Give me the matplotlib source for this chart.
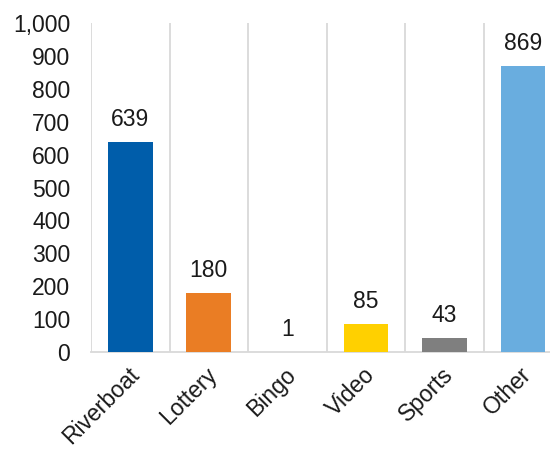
import matplotlib
matplotlib.use("Agg")
import matplotlib.pyplot as plt
import matplotlib.transforms as mtransforms
from matplotlib.ticker import FuncFormatter, FixedLocator

plt.rcParams["font.family"] = ["Liberation Sans", "DejaVu Sans"]

# ---- data ----
categories = ["Riverboat", "Lottery", "Bingo", "Video", "Sports", "Other"]
values = [639, 180, 1, 85, 43, 869]
colors = ["#005DAA", "#EA7D24", "#A5A5A5", "#FFD000", "#7F7F7F", "#69ADDF"]


def main():
    fig = plt.figure(figsize=(5.5, 4.51), dpi=100)
    ax = fig.add_axes([0.1655, 0.2195, 0.857, 0.7295])

    x = list(range(len(categories)))
    bars = ax.bar(x, values, width=0.57, color=colors, zorder=3)

    for b, v in zip(bars, values):
        ax.annotate(f"{v:,}", (b.get_x() + b.get_width() / 2, v),
                    xytext=(0, 8), textcoords="offset points",
                    ha="center", va="bottom", fontsize=16.5, color="#1a1a1a")

    ax.set_xlim(-0.5, len(categories) - 0.5)
    ax.set_ylim(0, 1000)
    ax.set_yticks(range(0, 1001, 100))
    ax.yaxis.set_major_formatter(FuncFormatter(lambda v, p: f"{int(v):,}"))
    ax.tick_params(axis="y", length=0, pad=15, labelsize=16.5, labelcolor="#1a1a1a")

    ax.set_xticks(x)
    ax.set_xticklabels(categories, rotation=45, ha="right",
                       rotation_mode="anchor", fontsize=16.5, color="#1a1a1a")
    ax.tick_params(axis="x", length=0, pad=8)
    # nudge rotated labels slightly left
    shift = mtransforms.ScaledTranslation(-3 / 100, 0, fig.dpi_scale_trans)
    for lbl in ax.get_xticklabels():
        lbl.set_transform(lbl.get_transform() + shift)

    # vertical separators between categories
    ax.xaxis.set_minor_locator(FixedLocator([i - 0.5 for i in range(len(categories) + 1)]))
    ax.tick_params(axis="x", which="minor", length=0)
    ax.grid(axis="x", which="minor", color="#D9D9D9", linewidth=1.3, zorder=0)

    for s in ["top", "right", "left"]:
        ax.spines[s].set_visible(False)
    ax.spines["bottom"].set_color("#D9D9D9")
    ax.spines["bottom"].set_linewidth(1.3)

    fig.savefig("out.png", dpi=100)


if __name__ == "__main__":
    main()
